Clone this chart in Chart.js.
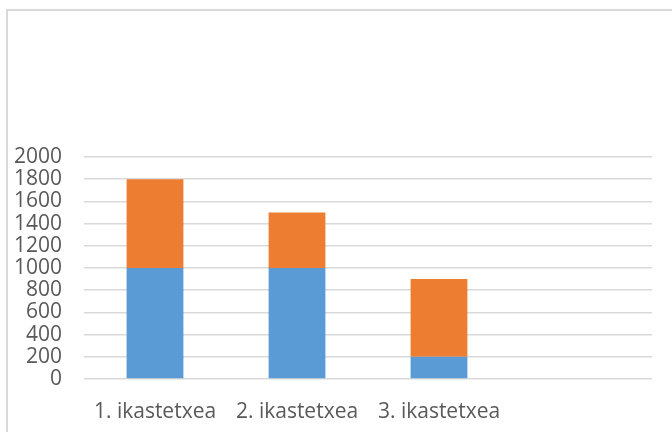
<!DOCTYPE html>
<html>
<head>
<meta charset="utf-8">
<script src="https://cdn.jsdelivr.net/npm/chart.js@4/dist/chart.umd.min.js"></script>
<style>
  html, body { margin: 0; padding: 0; background: #fff; }
  body { width: 672px; height: 432px; position: relative; overflow: hidden; }
  #frame {
    position: absolute; left: 6px; top: 9px;
    width: 700px; height: 460px;
    border-left: 2px solid #d9d9d9; border-top: 2px solid #d9d9d9;
  }
  #wrap { position: absolute; left: 0; top: 0; width: 672px; height: 432px; }
</style>
</head>
<body>
<div id="frame"></div>
<div id="wrap"><canvas id="myBarChart"></canvas></div>
<script>
const categories = ["1. ikastetxea", "2. ikastetxea", "3. ikastetxea", ""];
const blueValues = [1000, 1000, 200, null];
const orangeValues = [800, 500, 700, null];
const yTicks = [0, 200, 400, 600, 800, 1000, 1200, 1400, 1600, 1800, 2000];

const textFont = { family: "'Open Sans', 'Liberation Sans', sans-serif", size: 21 };

const config = {
  type: "bar",
  data: {
    labels: categories,
    datasets: [
      {
        label: "",
        data: blueValues,
        backgroundColor: "#5b9bd5",
        borderWidth: 0,
      },
      {
        label: "",
        data: orangeValues,
        backgroundColor: "#ed7d31",
        borderWidth: 0,
      },
    ],
  },
  options: {
    responsive: true,
    maintainAspectRatio: false,
    animation: false,
    layout: { padding: { top: 157, right: 20, bottom: 0, left: 0 } },
    plugins: { legend: { display: false }, tooltip: { enabled: false } },
    datasets: { bar: { categoryPercentage: 1, barPercentage: 0.4 } },
    scales: {
      x: {
        stacked: true,
        grid: { display: false },
        border: { display: false },
        afterFit: (scale) => {
          scale.height = 53;
        },
        ticks: {
          color: "#595959",
          font: textFont,
          padding: 12,
          maxRotation: 0,
          autoSkip: false,
        },
      },
      y: {
        stacked: true,
        min: 0,
        max: 2000,
        afterBuildTicks: (scale) => {
          scale.ticks = yTicks.map((v) => ({ value: v }));
        },
        afterFit: (scale) => {
          scale.width = 84;
        },
        grid: { color: "#d9d9d9", lineWidth: 1.5, drawTicks: false },
        border: { display: false },
        ticks: {
          color: "#595959",
          font: textFont,
          padding: 22,
          autoSkip: false,
          callback: (value) => String(value),
        },
      },
    },
  },
};

const barChart = new Chart(document.querySelector("#myBarChart"), config);
</script>
</body>
</html>
